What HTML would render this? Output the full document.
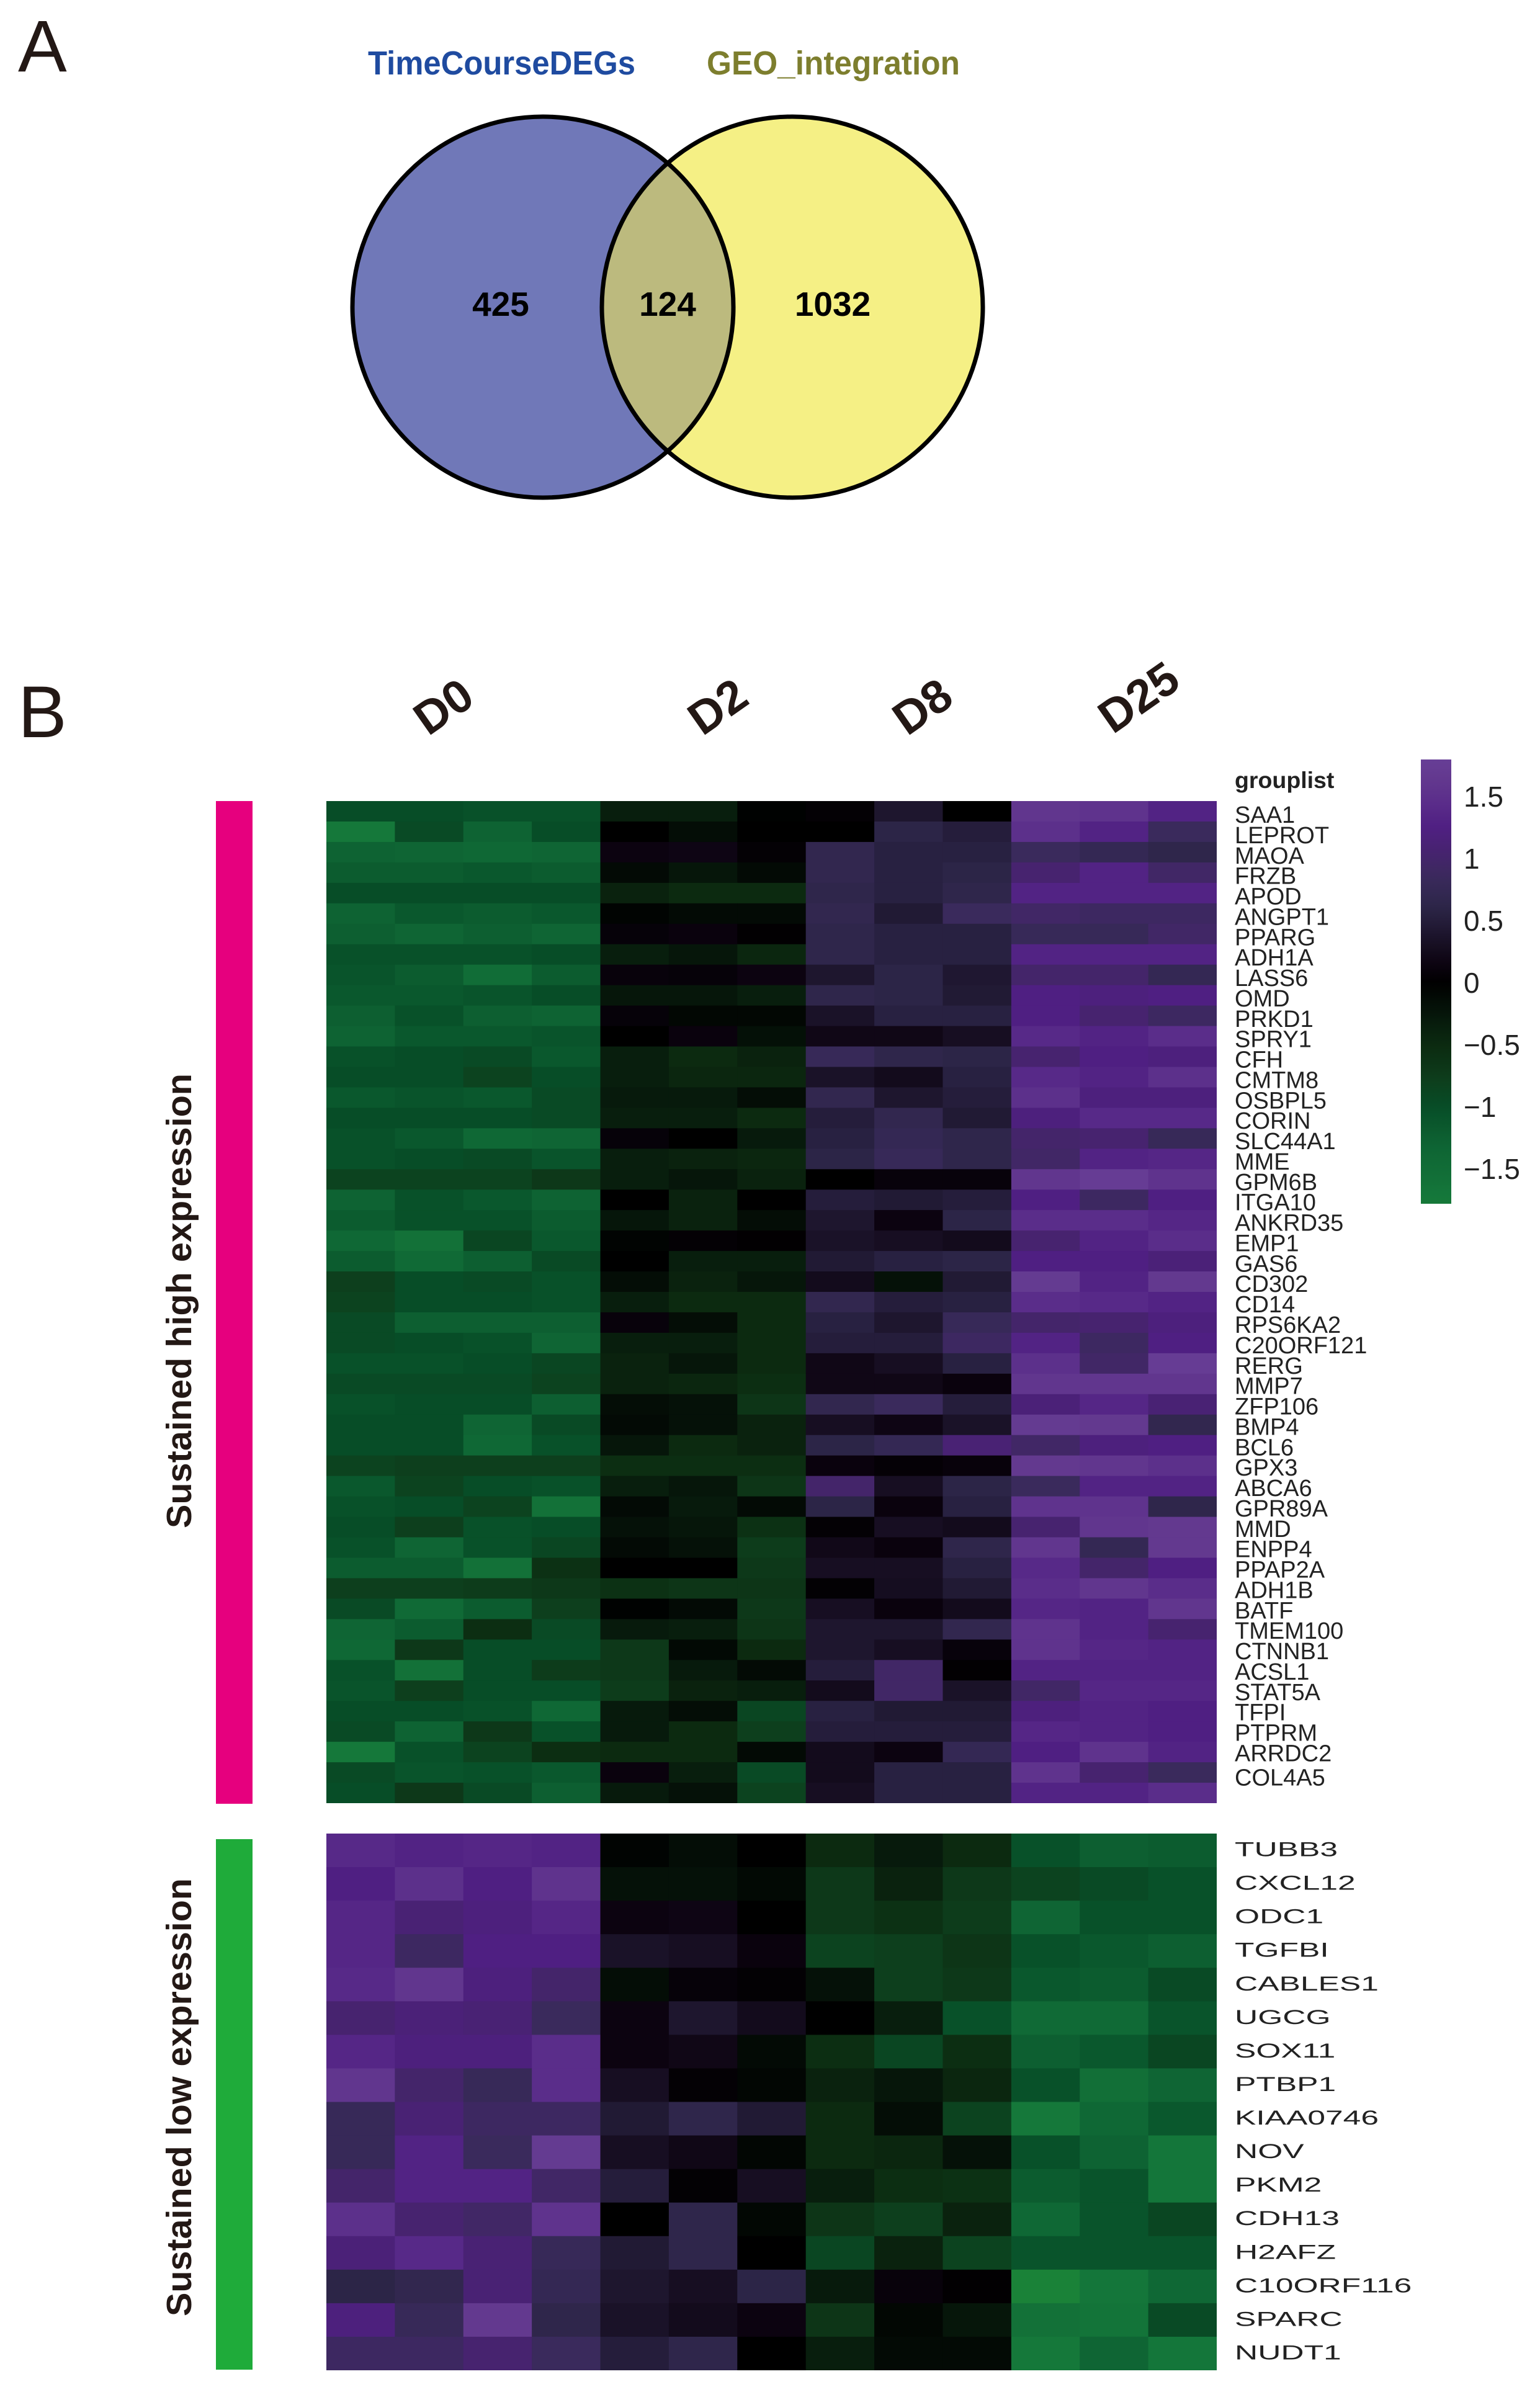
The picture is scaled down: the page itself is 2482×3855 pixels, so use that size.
<!DOCTYPE html>
<html lang="en">
<head>
<meta charset="utf-8">
<title>Venn diagram and expression heatmap</title>
<style>
html,body{margin:0;padding:0;background:#fff;}
svg{display:block;}
text{font-family:"Liberation Sans",sans-serif;}
</style>
</head>
<body>
<svg id="figure" xmlns="http://www.w3.org/2000/svg" width="2482" height="3855" viewBox="0 0 2482 3855">
  <defs>
    <clipPath id="left-clip"><circle cx="875" cy="495" r="307"/></clipPath>
    <linearGradient id="colorbar-gradient" x1="0" y1="0" x2="0" y2="1"></linearGradient>
  </defs>
  <rect x="0" y="0" width="2482" height="3855" fill="#fff"/>

  <text x="29" y="115" font-size="118" fill="#231815">A</text>
  <text x="29" y="1188" font-size="118" fill="#231815">B</text>

  <g>
    <text x="593" y="120" font-size="54" font-weight="bold" fill="#1f4ba0" textLength="431" lengthAdjust="spacingAndGlyphs">TimeCourseDEGs</text>
    <text x="1139" y="120" font-size="54" font-weight="bold" fill="#7d7e2e" textLength="408" lengthAdjust="spacingAndGlyphs">GEO_integration</text>
    <circle cx="875" cy="495" r="307" fill="#7078b8"/>
    <circle cx="1277" cy="495" r="307" fill="#f5f085"/>
    <circle cx="1277" cy="495" r="307" fill="#bcba7e" clip-path="url(#left-clip)"/>
    <circle cx="875" cy="495" r="307" fill="none" stroke="#000" stroke-width="7"/>
    <circle cx="1277" cy="495" r="307" fill="none" stroke="#000" stroke-width="7"/>
    <text x="807" y="509" font-size="55" font-weight="bold" text-anchor="middle" fill="#000">425</text>
    <text x="1076" y="509" font-size="55" font-weight="bold" text-anchor="middle" fill="#000">124</text>
    <text x="1342" y="509" font-size="55" font-weight="bold" text-anchor="middle" fill="#000">1032</text>
  </g>

  <g font-size="75" font-weight="bold" fill="#231815" text-anchor="middle">
    <text transform="translate(714.5,1138.5) rotate(-35)" y="26">D0</text>
    <text transform="translate(1156.5,1138.5) rotate(-35)" y="26">D2</text>
    <text transform="translate(1486.5,1138.5) rotate(-35)" y="26">D8</text>
    <text transform="translate(1835,1123.5) rotate(-35)" y="26">D25</text>
  </g>

  <text transform="translate(308,2463) rotate(-90)" font-size="57" font-weight="bold" fill="#231815" textLength="733" lengthAdjust="spacingAndGlyphs">Sustained high expression</text>
  <text transform="translate(308,3733) rotate(-90)" font-size="57" font-weight="bold" fill="#231815" textLength="706" lengthAdjust="spacingAndGlyphs">Sustained low expression</text>
  <rect x="348" y="1291" width="59" height="1616" fill="#e6007e"/>
  <rect x="348" y="2964" width="59" height="855" fill="#1fab3a"/>

  <text x="1990" y="1270" font-size="37.5" font-weight="bold" fill="#222">grouplist</text>

  <g id="heat-high"></g>
  <g id="heat-low"></g>
  <g id="genes-high" font-size="38" fill="#222"></g>
  <g id="genes-low" font-size="32" fill="#222"></g>

  <rect x="2290" y="1224" width="49" height="716" fill="url(#colorbar-gradient)"/>
  <g id="colorbar-ticks" font-size="46" fill="#222"></g>
</svg>

<script>
const highGenes = ["SAA1","LEPROT","MAOA","FRZB","APOD","ANGPT1","PPARG","ADH1A","LASS6","OMD","PRKD1","SPRY1","CFH","CMTM8","OSBPL5","CORIN","SLC44A1","MME","GPM6B","ITGA10","ANKRD35","EMP1","GAS6","CD302","CD14","RPS6KA2","C20ORF121","RERG","MMP7","ZFP106","BMP4","BCL6","GPX3","ABCA6","GPR89A","MMD","ENPP4","PPAP2A","ADH1B","BATF","TMEM100","CTNNB1","ACSL1","STAT5A","TFPI","PTPRM","ARRDC2","COL4A5"];
const lowGenes = ["TUBB3","CXCL12","ODC1","TGFBI","CABLES1","UGCG","SOX11","PTBP1","KIAA0746","NOV","PKM2","CDH13","H2AFZ","C10ORF116","SPARC","NUDT1"];
const colorbarTickValues = [1.5,1,0.5,0,-0.5,-1,-1.5];
const colorbarTickLabels = ["1.5","1","0.5","0","\u22120.5","\u22121","\u22121.5"];

const highValues = [
[-1.0,-1.0,-1.05,-1.05,-.35,-.35,-.02,.05,.4,0,1.6,1.55,1.3],
[-1.75,-.95,-1.3,-1.0,0,-.15,0,0,.6,.5,1.5,1.3,.85],
[-1.3,-1.35,-1.4,-1.35,.15,.18,.05,.7,.55,.55,.85,.75,.65],
[-1.2,-1.2,-1.15,-1.2,-.12,-.25,-.12,.7,.55,.6,1.05,1.3,.95],
[-1.0,-1.0,-1.0,-1.0,-.4,-.5,-.5,.65,.55,.65,1.3,1.3,1.3],
[-1.3,-1.15,-1.2,-1.15,-.05,-.12,-.12,.7,.45,.85,.95,.9,.9],
[-1.25,-1.35,-1.25,-1.35,.08,.12,.02,.65,.55,.55,.8,.8,.95],
[-1.05,-1.05,-1.05,-1.0,-.35,-.25,-.45,.65,.55,.55,1.3,1.3,1.3],
[-1.1,-1.2,-1.5,-1.2,.1,.08,.15,.4,.6,.42,1.0,1.0,.75],
[-1.15,-1.15,-1.1,-1.0,-.25,-.25,-.35,.65,.6,.45,1.25,1.2,1.25],
[-1.25,-1.05,-1.25,-1.3,.08,-.08,-.08,.35,.55,.55,1.25,1.05,.9],
[-1.3,-1.15,-1.15,-1.1,0,.12,-.18,.2,.2,.3,1.4,1.3,1.45],
[-1.05,-1.0,-.95,-1.15,-.35,-.5,-.4,.8,.65,.6,1.05,1.25,1.2],
[-1.0,-1.0,-.85,-1.0,-.35,-.45,-.45,.35,.25,.55,1.4,1.3,1.5],
[-1.15,-1.1,-1.15,-.95,-.3,-.3,-.15,.7,.4,.5,1.5,1.2,1.2],
[-1.0,-1.0,-1.0,-.95,-.35,-.35,-.5,.5,.7,.45,1.2,1.4,1.4],
[-1.05,-1.15,-1.4,-1.35,.08,0,-.3,.55,.75,.65,1.0,1.05,.8],
[-1.05,-1.0,-.95,-1.1,-.35,-.4,-.45,.6,.8,.65,.95,1.3,1.35],
[-.85,-.85,-.85,-.7,-.35,-.25,-.4,0,.1,.1,1.6,1.75,1.55],
[-1.3,-1.05,-1.15,-1.3,0,-.4,0,.5,.45,.5,1.25,.9,1.25],
[-1.2,-1.05,-1.05,-1.2,-.25,-.4,-.15,.4,.15,.6,1.45,1.45,1.35],
[-1.4,-1.6,-.9,-1.15,-.05,.05,.02,.35,.3,.25,1.05,1.3,1.45],
[-1.2,-1.45,-1.25,-.95,0,-.35,-.35,.45,.55,.6,1.25,1.25,1.15],
[-.8,-1.0,-.95,-1.05,-.15,-.4,-.25,.25,-.2,.45,1.7,1.3,1.65],
[-.85,-1.0,-1.0,-1.05,-.35,-.5,-.5,.7,.5,.55,1.45,1.4,1.3],
[-.95,-1.25,-1.25,-1.25,.1,-.15,-.5,.55,.4,.8,1.0,1.05,1.2],
[-.95,-1.0,-1.05,-1.35,-.35,-.35,-.5,.5,.5,.9,1.3,.9,1.25],
[-1.05,-1.05,-1.0,-.9,-.4,-.25,-.5,.2,.3,.55,1.5,.95,1.75],
[-.95,-.95,-.95,-.85,-.4,-.45,-.55,.2,.2,.12,1.6,1.6,1.6],
[-1.05,-1.0,-1.0,-1.25,-.15,-.2,-.65,.7,.85,.5,1.15,1.35,1.1],
[-1.0,-1.0,-1.35,-.95,-.12,-.2,-.4,.3,.18,.35,1.7,1.65,.7],
[-1.0,-1.0,-1.4,-1.05,-.25,-.5,-.4,.6,.75,1.1,.95,1.2,1.25],
[-.85,-.8,-.8,-.8,-.55,-.55,-.55,.12,.06,.1,1.65,1.6,1.5],
[-1.15,-.85,-1.0,-1.05,-.35,-.25,-.65,1.0,.3,.6,.85,1.3,1.3],
[-1.05,-1.0,-.85,-1.6,-.12,-.3,-.12,.6,.12,.55,1.55,1.55,.65],
[-1.0,-.8,-1.05,-1.0,-.2,-.25,-.6,.05,.3,.25,1.05,1.6,1.65],
[-1.05,-1.35,-1.05,-.9,-.12,-.2,-.75,.22,.12,.65,1.6,.75,1.65],
[-1.2,-1.2,-1.6,-.6,0,0,-.7,.3,.3,.55,1.4,1.0,1.25],
[-.8,-.8,-.75,-.7,-.6,-.65,-.65,.04,.28,.45,1.45,1.6,1.45],
[-.95,-1.45,-1.2,-.8,-.02,-.12,-.7,.3,.12,.25,1.35,1.3,1.6],
[-1.35,-1.2,-.55,-.95,-.3,-.35,-.65,.4,.4,.7,1.55,1.3,1.05],
[-1.4,-.7,-1.0,-1.0,-.7,-.1,-.5,.4,.3,.1,1.55,1.35,1.3],
[-1.05,-1.6,-1.0,-.75,-.7,-.3,-.12,.5,.95,.02,1.3,1.3,1.3],
[-1.1,-.8,-1.0,-1.0,-.75,-.4,-.35,.25,.95,.35,.95,1.35,1.35],
[-1.0,-1.0,-1.05,-1.4,-.3,-.15,-.9,.55,.45,.45,1.2,1.3,1.25],
[-.95,-1.3,-.7,-1.05,-.3,-.5,-.8,.5,.5,.5,1.35,1.3,1.25],
[-1.75,-1.05,-.85,-.55,-.5,-.5,-.12,.25,.15,.75,1.25,1.55,1.3],
[-.95,-1.1,-1.05,-1.15,.12,-.35,-.95,.25,.55,.55,1.55,1.05,.85],
[-1.0,-.7,-.95,-1.25,-.3,-.2,-.85,.3,.55,.55,1.3,1.3,1.45]
];

const lowValues = [
[1.4,1.3,1.35,1.3,-.05,-.15,0,-.5,-.3,-.5,-1.05,-1.25,-1.2],
[1.25,1.5,1.25,1.55,-.2,-.2,-.1,-.7,-.4,-.7,-.85,-.95,-1.05],
[1.35,1.1,1.2,1.35,.15,.18,0,-.7,-.6,-.75,-1.35,-1.05,-1.05],
[1.35,.9,1.25,1.25,.35,.3,.12,-.85,-.8,-.65,-1.05,-1.15,-1.25],
[1.4,1.6,1.2,1.0,-.15,.08,.04,-.2,-.8,-.7,-1.15,-1.2,-.95],
[1.05,1.15,1.1,.85,.15,.4,.25,0,-.35,-1.05,-1.45,-1.45,-1.1],
[1.35,1.2,1.2,1.45,.15,.2,-.12,-.55,-.9,-.55,-1.25,-1.15,-.9],
[1.6,1.0,.8,1.45,.3,.05,-.07,-.4,-.25,-.45,-1.05,-1.55,-1.35],
[.8,1.1,.9,.9,.45,.65,.45,-.5,-.15,-.85,-1.75,-1.4,-1.15],
[.8,1.3,.85,1.7,.3,.2,-.07,-.5,-.45,-.2,-1.05,-1.3,-1.7],
[1.0,1.3,1.3,.95,.5,.04,.3,-.35,-.55,-.6,-1.2,-1.1,-1.7],
[1.5,1.05,.95,1.55,0,.65,-.08,-.65,-.8,-.4,-1.4,-1.1,-.9],
[1.15,1.4,1.1,.8,.45,.65,0,-.9,-.4,-.85,-1.1,-1.1,-1.1],
[.6,.7,1.1,.75,.4,.3,.6,-.3,.1,.02,-2.0,-1.7,-1.4],
[1.2,.8,1.65,.65,.35,.25,.15,-.65,-.08,-.25,-1.6,-1.65,-.95],
[.9,.9,1.05,.85,.5,.65,0,-.35,-.12,-.12,-1.75,-1.35,-1.7]
];

const colorStopValues = [-2,-1.7,-1.3,-1,-.8,-.5,-.3,0,.15,.35,.6,.85,1.05,1.25,1.45,1.65,1.85];
const colorStopHex = ["#1a8238","#14763a","#0e6333","#074d27","#0d3f1d","#0c2a10","#071a0c","#000000","#0c0310","#1a1228","#2c2547","#3a2a5c","#47236f","#4f1f82","#5a2d8a","#63398f","#683f98"];

const SVG_NS = "http://www.w3.org/2000/svg";
const heatLeft = 526, heatRight = 1961, columnCount = 13;
const highTop = 1291, highBottom = 2906;
const lowTop = 2955, lowBottom = 3820;

function hexToRgb(h){
  return [parseInt(h.slice(1,3),16),parseInt(h.slice(3,5),16),parseInt(h.slice(5,7),16)];
}
function colorScale(v){
  const n = colorStopValues.length;
  if (v <= colorStopValues[0]) return colorStopHex[0];
  if (v >= colorStopValues[n-1]) return colorStopHex[n-1];
  for (let i = 1; i < n; i++){
    if (v <= colorStopValues[i]){
      const t = (v - colorStopValues[i-1]) / (colorStopValues[i] - colorStopValues[i-1]);
      const a = hexToRgb(colorStopHex[i-1]), b = hexToRgb(colorStopHex[i]);
      return "rgb(" + a.map((c,k)=>Math.round(c+(b[k]-c)*t)).join(",") + ")";
    }
  }
  return colorStopHex[n-1];
}
function xScale(c){ return heatLeft + c * (heatRight - heatLeft) / columnCount; }
function rowScale(r, top, bottom, rows){ return top + r * (bottom - top) / rows; }
function colorbarY(v){ return 1584 - 200 * v; }

function drawHeat(groupId, values, top, bottom, cellName){
  const group = document.getElementById(groupId);
  const rows = values.length;
  values.forEach((row, r) => {
    row.forEach((v, c) => {
      const rect = document.createElementNS(SVG_NS, "rect");
      
      
      const x0 = xScale(c), x1 = xScale(c + 1);
      const y0 = rowScale(r, top, bottom, rows), y1 = rowScale(r + 1, top, bottom, rows);
      rect.setAttribute("x", x0.toFixed(2));
      rect.setAttribute("y", y0.toFixed(2));
      rect.setAttribute("width", (x1 - x0 + (c < columnCount - 1 ? 0.6 : 0)).toFixed(2));
      rect.setAttribute("height", (y1 - y0 + (r < rows - 1 ? 0.6 : 0)).toFixed(2));
      rect.setAttribute("fill", colorScale(v));
      group.appendChild(rect);
    });
  });
}
drawHeat("heat-high", highValues, highTop, highBottom, "heat-cell-high");
drawHeat("heat-low", lowValues, lowTop, lowBottom, "heat-cell-low");

const genesHighGroup = document.getElementById("genes-high");
highGenes.forEach((gene, i) => {
  const t = document.createElementNS(SVG_NS, "text");
  
  
  t.setAttribute("x", 1990);
  const extra = i === highGenes.length - 1 ? 6 : 0;
  t.setAttribute("y", (1326 + i * 32.88 + extra).toFixed(1));
  t.textContent = gene;
  genesHighGroup.appendChild(t);
});

const genesLowGroup = document.getElementById("genes-low");
lowGenes.forEach((gene, i) => {
  const t = document.createElementNS(SVG_NS, "text");
  
  
  const cy = rowScale(i + 0.5, lowTop, lowBottom, lowGenes.length);
  t.setAttribute("transform", "translate(1990," + (cy + 9.5).toFixed(1) + ") scale(1.61,1)");
  t.textContent = gene;
  genesLowGroup.appendChild(t);
});

const gradient = document.getElementById("colorbar-gradient");
const barTopValue = 1.8, barBottomValue = -1.78;
for (let k = 0; k <= 40; k++){
  const stop = document.createElementNS(SVG_NS, "stop");
  stop.setAttribute("offset", (k / 40).toFixed(3));
  stop.setAttribute("stop-color", colorScale(barTopValue + (barBottomValue - barTopValue) * k / 40));
  gradient.appendChild(stop);
}

const tickGroup = document.getElementById("colorbar-ticks");
colorbarTickValues.forEach((v, i) => {
  const t = document.createElementNS(SVG_NS, "text");
  
  
  t.setAttribute("x", 2359);
  t.setAttribute("y", colorbarY(v) + 16);
  t.textContent = colorbarTickLabels[i];
  tickGroup.appendChild(t);
});
</script>
</body>
</html>
